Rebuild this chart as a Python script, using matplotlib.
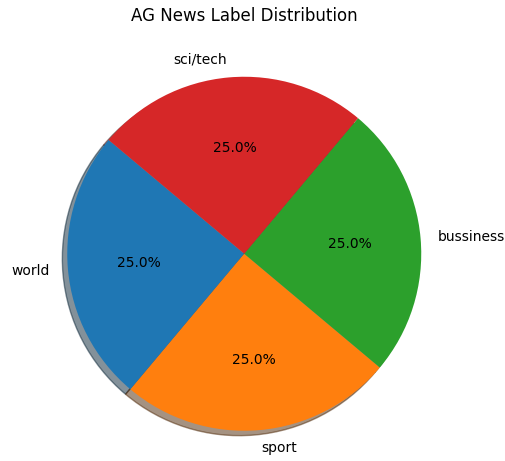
import matplotlib
matplotlib.use("Agg")
import matplotlib.pyplot as plt

labels = ["world", "sport", "bussiness", "sci/tech"]
counts = [30000, 30000, 30000, 30000]

fig = plt.figure(figsize=(5.06, 4.61), dpi=100)
ax = fig.add_axes([23/506, -14/461, 442.5/506, 442.5/461])

ax.pie(counts, labels=labels, autopct="%1.1f%%", shadow=True, startangle=140)
ax.set_title("AG News Label Distribution", pad=8, fontsize=12)

fig.savefig("out.png", dpi=100)
